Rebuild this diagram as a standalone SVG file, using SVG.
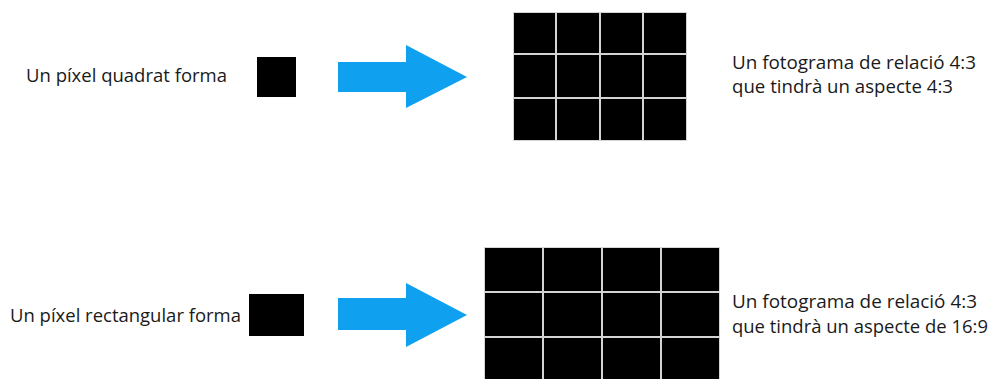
<svg xmlns="http://www.w3.org/2000/svg" width="996" height="379" viewBox="0 0 996 379">
<style>
.t{font-family:"Open Sans","Noto Sans","Liberation Sans",sans-serif;fill:#1a1a1a;}
.s{font-size:18px;}
.r{font-size:19px;}
.px{fill:#000;}
.grid{fill:#d4d4d4;}
.arrow{fill:#0fa0f0;}
</style>
<rect width="996" height="379" fill="#fff"/>
<g id="label-square">
<text class="t s" x="26" y="82" textLength="201" lengthAdjust="spacingAndGlyphs">Un píxel quadrat forma</text>
</g>
<g id="pixel-square">
<rect class="px" x="257" y="57" width="39" height="40"/>
</g>
<g id="frame-4-3">
<rect class="grid" x="513" y="12" width="174" height="129"/>
<g class="px">
<rect x="514" y="13" width="41" height="40"/><rect x="557" y="13" width="42" height="40"/><rect x="601" y="13" width="41" height="40"/><rect x="644" y="13" width="42" height="40"/>
<rect x="514" y="55" width="41" height="42"/><rect x="557" y="55" width="42" height="42"/><rect x="601" y="55" width="41" height="42"/><rect x="644" y="55" width="42" height="42"/>
<rect x="514" y="99" width="41" height="41"/><rect x="557" y="99" width="42" height="41"/><rect x="601" y="99" width="41" height="41"/><rect x="644" y="99" width="42" height="41"/>
</g>
</g>
<g id="desc-top">
<text class="t r" x="732" y="69" textLength="244" lengthAdjust="spacingAndGlyphs">Un fotograma de relació 4:3</text>
<text class="t r" x="732" y="93" textLength="221" lengthAdjust="spacingAndGlyphs">que tindrà un aspecte 4:3</text>
</g>
<g id="label-rect">
<text class="t s" x="10" y="322" textLength="231" lengthAdjust="spacingAndGlyphs">Un píxel rectangular forma</text>
</g>
<g id="pixel-rect">
<rect class="px" x="249" y="294" width="55" height="42"/>
</g>
<g id="frame-16-9">
<rect class="grid" x="484" y="247" width="236" height="140"/>
<g class="px">
<rect x="485" y="248" width="57" height="43"/><rect x="544" y="248" width="57" height="43"/><rect x="603" y="248" width="57" height="43"/><rect x="662" y="248" width="57" height="43"/>
<rect x="485" y="293" width="57" height="43"/><rect x="544" y="293" width="57" height="43"/><rect x="603" y="293" width="57" height="43"/><rect x="662" y="293" width="57" height="43"/>
<rect x="485" y="338" width="57" height="49"/><rect x="544" y="338" width="57" height="49"/><rect x="603" y="338" width="57" height="49"/><rect x="662" y="338" width="57" height="49"/>
</g>
</g>
<g id="desc-bottom">
<text class="t r" x="732" y="308" textLength="245" lengthAdjust="spacingAndGlyphs">Un fotograma de relació 4:3</text>
<text class="t r" x="732" y="333" textLength="256" lengthAdjust="spacingAndGlyphs">que tindrà un aspecte de 16:9</text>
</g>
<g id="connectors">
<polygon class="arrow" points="338,62 406,62 406,45 467,77 406,108 406,92 338,92"/>
<polygon class="arrow" points="338,298 406,298 406,283 467,315 406,347 406,330 338,330"/>
</g>
</svg>
